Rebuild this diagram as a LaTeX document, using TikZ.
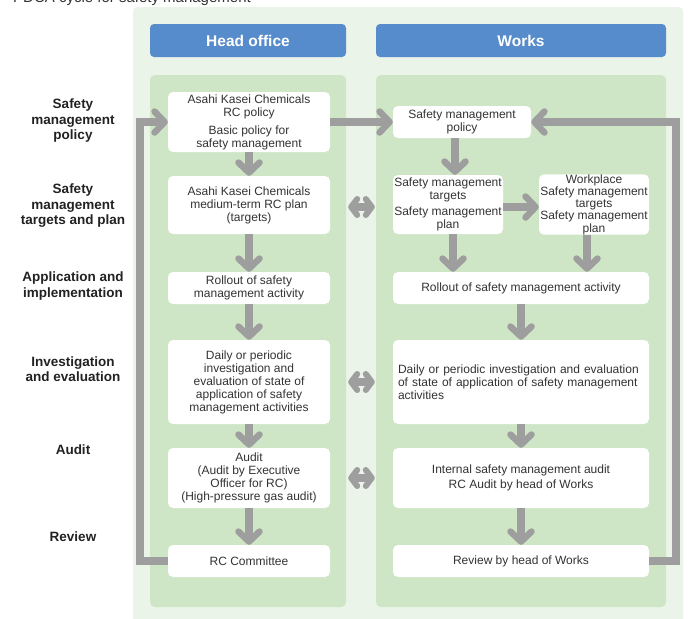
\documentclass[tikz,border=0pt]{standalone}
\usepackage{fontspec}
\setmainfont{Liberation Sans}
\usetikzlibrary{arrows.meta}
\definecolor{bgout}{RGB}{234,244,232}
\definecolor{bgcol}{RGB}{206,229,198}
\definecolor{hblue}{RGB}{86,140,204}
\definecolor{agray}{RGB}{158,158,158}
\definecolor{txt}{RGB}{51,51,51}
\definecolor{lbl}{RGB}{34,34,34}
\tikzset{
  box/.style={fill=white, rounded corners=5pt, inner sep=0pt, text=txt,
    font=\fontsize{12}{13}\selectfont, align=center},
  headbox/.style={fill=hblue, rounded corners=4pt, inner sep=0pt, text=white,
    font=\fontsize{15.5}{18}\selectfont\bfseries, minimum height=33},
  lab/.style={text=lbl, font=\fontsize{13.5}{15.5}\selectfont\bfseries, align=center},
  garrow/.style={draw=agray, line width=7.5pt,
    -{Straight Barb[length=10pt,width=21pt,line width=6.5pt,round]}},
  darrow/.style={draw=agray, line width=7.5pt,
    {Straight Barb[length=6pt,width=16pt,line width=6pt,round]}-{Straight Barb[length=6pt,width=16pt,line width=6pt,round]}},
}
\begin{document}
\begin{tikzpicture}[x=1pt,y=-1pt]
\useasboundingbox (0,0) rectangle (689,619);
\clip (0,0) rectangle (689,619);
% title (cut off at top, as in the reference)
\node[anchor=base west, text=txt, font=\fontsize{15}{18}\selectfont, inner sep=0pt] (title) at (13,2) {PDCA cycle for safety management};
% panels
\fill[bgout, rounded corners=4pt] (133,7) rectangle (683,625);
\fill[bgcol, rounded corners=5pt] (150,75) rectangle (346,607);
\fill[bgcol, rounded corners=5pt] (376,75) rectangle (666,607);
\node[headbox, minimum width=196] (hoff) at (248,40.5) {Head office};
\node[headbox, minimum width=290] (works) at (521,40.5) {Works};
% row labels
\node[lab] (l1) at (73,121) {Safety\\management\\policy};
\node[lab] (l2) at (73,206) {Safety\\management\\targets and plan};
\node[lab] (l3) at (73,286) {Application and\\implementation};
\node[lab] (l4) at (73,369) {Investigation\\and evaluation};
\node[lab] (l5) at (73,450) {Audit};
\node[lab] (l6) at (73,537) {Review};
% head office column
\node[box, minimum width=162, minimum height=60] (a1) at (249,122) {Asahi Kasei Chemicals\\RC policy\\[5pt]Basic policy for\\safety management};
\node[box, minimum width=162, minimum height=58] (a2) at (249,205) {Asahi Kasei Chemicals\\medium-term RC plan\\(targets)};
\node[box, minimum width=162, minimum height=32] (a3) at (249,288) {Rollout of safety\\management activity};
\node[box, minimum width=162, minimum height=84] (a4) at (249,382) {Daily or periodic\\investigation and\\evaluation of state of\\application of safety\\management activities};
\node[box, minimum width=162, minimum height=60] (a5) at (249,478) {Audit\\(Audit by Executive\\Officer for RC)\\(High-pressure gas audit)};
\node[box, minimum width=162, minimum height=32] (a6) at (249,561) {RC Committee};
% works column
\node[box, minimum width=138, minimum height=32] (b1) at (462,122) {Safety management\\policy};
\node[box, minimum width=110, minimum height=59] (b2) at (448,204.5) {Safety management\\targets\\[3pt]Safety management\\plan};
\node[box, minimum width=110, minimum height=59, font=\fontsize{12}{12.3}\selectfont] (b3) at (594,204.5) {Workplace\\Safety management\\targets\\Safety management\\plan};
\node[box, minimum width=256, minimum height=32] (b4) at (521,288) {Rollout of safety management activity};
\node[box, minimum width=256, minimum height=84, align=left, text width=246] (b5) at (521,382) {Daily or periodic investigation and evaluation\\of state of application of safety management\\activities};
\node[box, minimum width=256, minimum height=60, font=\fontsize{12}{14.5}\selectfont] (b6) at (521,478) {Internal safety management audit\\RC Audit by head of Works};
\node[box, minimum width=256, minimum height=32] (b7) at (521,561) {Review by head of Works};
% arrows head office
\draw[garrow] (a1.south) -- (a2.north);
\draw[garrow] (a2.south) -- (a3.north);
\draw[garrow] (a3.south) -- (a4.north);
\draw[garrow] (a4.south) -- (a5.north);
\draw[garrow] (a5.south) -- (a6.north);
% arrows works
\draw[garrow] ([xshift=-7pt]b1.south) -- ([xshift=-7pt]b1.south |- b2.north);
\draw[garrow] ([xshift=5pt]b2.south) -- ([xshift=5pt]b2.south |- b4.north);
\draw[garrow] ([xshift=-7pt]b3.south) -- ([xshift=-7pt]b3.south |- b4.north);
\draw[garrow] ([yshift=-2.5pt]b2.east) -- ([yshift=-2.5pt]b3.west);
\draw[garrow] (b4.south) -- (b5.north);
\draw[garrow] (b5.south) -- (b6.north);
\draw[garrow] (b6.south) -- (b7.north);
% cross arrows
\draw[garrow] (a1.east) -- (b1.west);
\draw[darrow] ([xshift=18pt,yshift=-2pt]a2.east) -- ([xshift=-18pt,yshift=-2pt]b2.west |- a2.east);
\draw[darrow] ([xshift=18pt]a4.east) -- ([xshift=-18pt]b5.west);
\draw[darrow] ([xshift=18pt]a5.east) -- ([xshift=-18pt]b6.west);
% feedback loops
\draw[garrow] (a6.west) -- ++(-28,0) |- (a1.west);
\draw[garrow] (b7.east) -- ++(27,0) |- (b1.east);
\end{tikzpicture}
\end{document}
